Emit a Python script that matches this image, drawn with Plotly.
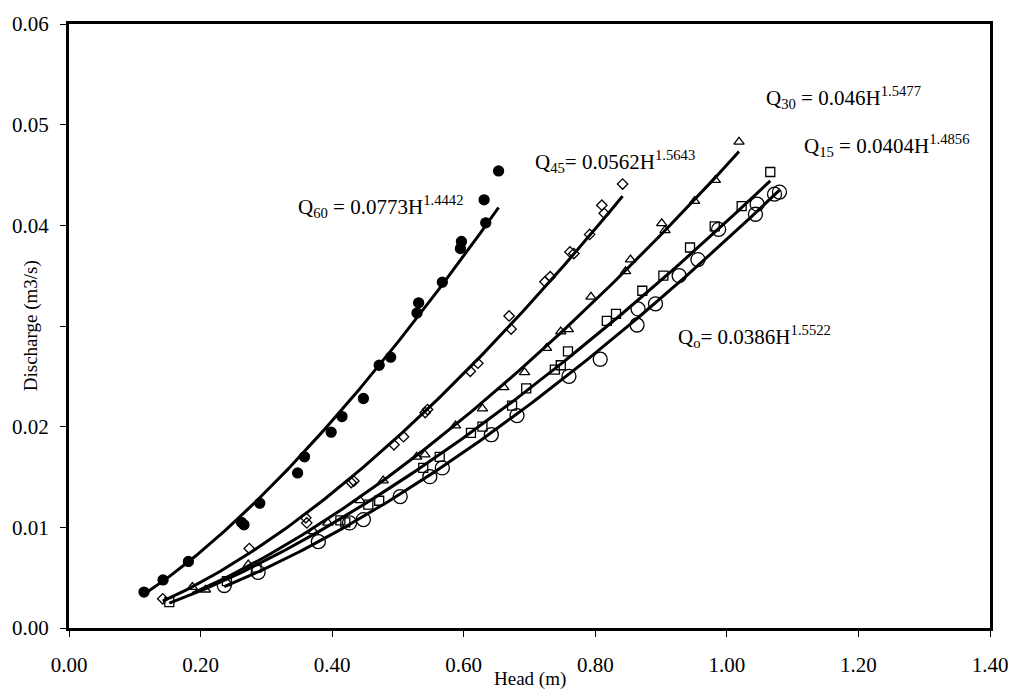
import numpy as np
import plotly.graph_objects as go

# ---------------- data ----------------
h60 = [0.114, 0.143, 0.1815, 0.262, 0.266, 0.29, 0.3475, 0.358, 0.3985, 0.415, 0.4475,
       0.4715, 0.489, 0.529, 0.5315, 0.5675, 0.595, 0.5965, 0.631, 0.6335, 0.653]
q60 = [0.00357, 0.00478, 0.00661, 0.0105, 0.01025, 0.0124, 0.0154, 0.0170, 0.01945, 0.0210, 0.0228,
       0.0261, 0.0269, 0.0313, 0.0323, 0.03435, 0.0377, 0.0384, 0.04253, 0.04025, 0.0454]

h45 = [0.1425, 0.274, 0.360, 0.3615, 0.429, 0.433, 0.494, 0.5085, 0.5415, 0.545, 0.610,
       0.6215, 0.669, 0.672, 0.7235, 0.7315, 0.7615, 0.7675, 0.7915, 0.810, 0.8135, 0.8415]
q45 = [0.0029, 0.00789, 0.01094, 0.01044, 0.01445, 0.0146, 0.0182, 0.0190, 0.0214, 0.0217, 0.0255,
       0.0263, 0.0310, 0.0297, 0.0344, 0.0349, 0.03736, 0.0372, 0.0391, 0.0420, 0.0412, 0.0441]

h30 = [0.1875, 0.2075, 0.2725, 0.3715, 0.3935, 0.4425, 0.4775, 0.5285, 0.541, 0.5875, 0.6285,
       0.661, 0.6925, 0.726, 0.7475, 0.759, 0.7935, 0.846, 0.8535, 0.901, 0.906, 0.951, 0.9825, 1.0185]
q30 = [0.00406, 0.0038, 0.0063, 0.0096, 0.01044, 0.01267, 0.01464, 0.0170, 0.01722, 0.0201, 0.0218,
       0.0239, 0.0254, 0.0278, 0.02944, 0.02967, 0.0329, 0.03543, 0.0366, 0.0402, 0.0395, 0.0424, 0.0445, 0.0483]

h15 = [0.1525, 0.240, 0.285, 0.4125, 0.420, 0.455, 0.4715, 0.5385, 0.5635, 0.611, 0.6285, 0.6735,
       0.695, 0.7385, 0.7475, 0.7585, 0.8175, 0.8315, 0.8715, 0.9035, 0.944, 0.9815, 1.0225, 1.066]
q15 = [0.00258, 0.00465, 0.0060, 0.0107, 0.0105, 0.01225, 0.01264, 0.0159, 0.0170, 0.01938, 0.0200, 0.0221,
       0.0238, 0.02567, 0.0261, 0.02747, 0.0305, 0.0312, 0.0335, 0.0350, 0.0378, 0.0399, 0.0419, 0.0453]

h0 = [0.236, 0.2875, 0.379, 0.4265, 0.4475, 0.5035, 0.5485, 0.5675, 0.642, 0.681, 0.760,
      0.8075, 0.8635, 0.865, 0.8915, 0.9275, 0.956, 0.9875, 1.0435, 1.046, 1.0725, 1.080]
q0 = [0.00422, 0.00553, 0.00858, 0.01044, 0.01077, 0.01306, 0.01503, 0.0159, 0.0192, 0.0211, 0.0250,
      0.0267, 0.0301, 0.0317, 0.0322, 0.0350, 0.0366, 0.0396, 0.0411, 0.0421, 0.0431, 0.0433]

# power-law fits shown on the chart: Q = a * H^b
fit_a = [0.0773, 0.0562, 0.046, 0.0404, 0.0386]
fit_b = [1.4442, 1.5643, 1.5477, 1.4856, 1.5522]

eq_text = ["Q<sub>60</sub> = 0.0773H<sup>1.4442</sup>",
           "Q<sub>45</sub>= 0.0562H<sup>1.5643</sup>",
           "Q<sub>30</sub> = 0.046H<sup>1.5477</sup>",
           "Q<sub>15</sub> = 0.0404H<sup>1.4856</sup>",
           "Q<sub>o</sub>= 0.0386H<sup>1.5522</sup>"]
eq_x = [0.345, 0.705, 1.056, 1.1145, 0.9225]
eq_y = [0.0419, 0.0463, 0.0527, 0.0479, 0.0290]

x_ticks = [0.0, 0.2, 0.4, 0.6, 0.8, 1.0, 1.2, 1.4]
y_ticks = [0.0, 0.01, 0.02, 0.03, 0.04, 0.05, 0.06]
y_tick_text = ["0.00", "0.01", "0.02", "", "0.04", "0.05", "0.06"]

# ---------------- figure ----------------
FONT = "Liberation Serif, Times New Roman, serif"
series_h = [h60, h45, h30, h15, h0]
series_q = [q60, q45, q30, q15, q0]
symbols = ["circle", "diamond-open", "triangle-up-open", "square-open", "circle-open"]
sizes = [10, 8, 9, 9, 14]
names = ["Q60", "Q45", "Q30", "Q15", "Q0"]

fig = go.Figure()
for h, q, sym, sz, nm, a, b in zip(series_h, series_q, symbols, sizes, names, fit_a, fit_b):
    fig.add_trace(go.Scatter(
        x=h, y=q, mode="markers", name=nm,
        marker=dict(symbol=sym, size=sz, color="black", line=dict(color="black", width=1.3)),
    ))
    hh = np.linspace(min(h), max(h), 120)
    fig.add_trace(go.Scatter(
        x=hh, y=a * hh ** b, mode="lines", name=nm + " fit",
        line=dict(color="black", width=3),
    ))

for t, x, y in zip(eq_text, eq_x, eq_y):
    fig.add_annotation(x=x, y=y, xref="x", yref="y", text=t, showarrow=False,
                       xanchor="left", yanchor="middle",
                       font=dict(family=FONT, size=21, color="black"))

fig.add_annotation(x=0.5, y=-0.085, xref="paper", yref="paper", text="Head (m)",
                   showarrow=False, xanchor="center", yanchor="middle",
                   font=dict(family=FONT, size=19, color="black"))
fig.add_annotation(x=-0.041, y=0.5, xref="paper", yref="paper", text="Discharge (m3/s)",
                   showarrow=False, xanchor="center", yanchor="middle", textangle=-90,
                   font=dict(family=FONT, size=19, color="black"))

fig.update_layout(
    width=1020, height=692,
    margin=dict(l=65, r=22, t=17, b=64),
    paper_bgcolor="white", plot_bgcolor="white",
    showlegend=False,
    font=dict(family=FONT, size=21, color="black"),
)
fig.update_xaxes(range=[0, 1.4], tickvals=x_ticks, tickformat=".2f",
                 showgrid=False, zeroline=False,
                 showline=True, linecolor="black", linewidth=3, mirror=True,
                 ticks="outside", ticklen=6, tickwidth=1, tickcolor="black",
                 ticklabelstandoff=10)
fig.update_yaxes(range=[0, 0.06], tickvals=y_ticks, ticktext=y_tick_text,
                 showgrid=False, zeroline=False,
                 showline=True, linecolor="black", linewidth=3, mirror=True,
                 ticks="outside", ticklen=6, tickwidth=1, tickcolor="black",
                 ticklabelstandoff=7)

fig.write_html("out.html")
